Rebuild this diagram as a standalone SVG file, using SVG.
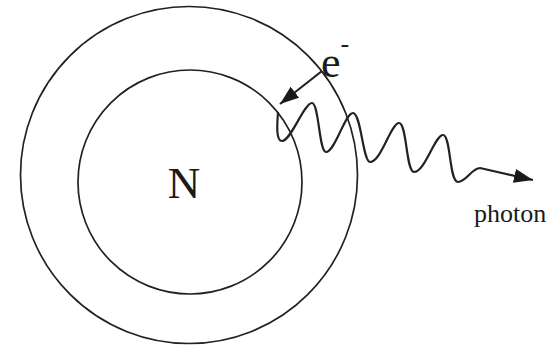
<svg xmlns="http://www.w3.org/2000/svg" width="548" height="351" viewBox="0 0 548 351">
<style>
.ring{fill:none;stroke:#222;stroke-width:1.7}
.conn{fill:none;stroke:#222;stroke-width:2.2}
.lbl{font-family:"Liberation Serif","Times New Roman",serif;fill:#1a1a1a}
</style>
<defs>
<marker id="ah" markerUnits="userSpaceOnUse" markerWidth="22" markerHeight="16" refX="19" refY="7" orient="auto">
<path d="M0,0 L19,7 L0,14 z" fill="#1a1a1a"/>
</marker>
</defs>
<rect width="548" height="351" fill="#fff"/>
<g id="outer-shell"><circle class="ring" cx="189" cy="175" r="168.5"/></g>
<g id="inner-shell"><circle class="ring" cx="190" cy="182" r="112"/></g>
<g id="nucleus"><text class="lbl" x="184" y="198" font-size="45" text-anchor="middle">N</text></g>
<g id="electron"><text class="lbl" x="321" y="77" font-size="44">e<tspan font-size="26" dy="-25">-</tspan></text></g>
<g id="photon-label"><text class="lbl" x="474" y="222" font-size="26">photon</text></g>
<g id="connectors">
<line class="conn" x1="322" y1="71" x2="280" y2="104" marker-end="url(#ah)"/>
<path class="conn" d="M278,112 C277,126 276,141 282,141 C291,141 304,103 312,103 C319,103 319,152 326,152 C335,152 345,113 353,113 C361,113 363,162 370,162 C381,162 391,123 399,123 C407,123 406,172 414,172 C425,172 435,135 443,135 C451,135 449,182 458,182 C466,182 472,168 480,168 L533,180" marker-end="url(#ah)"/>
</g>
</svg>
